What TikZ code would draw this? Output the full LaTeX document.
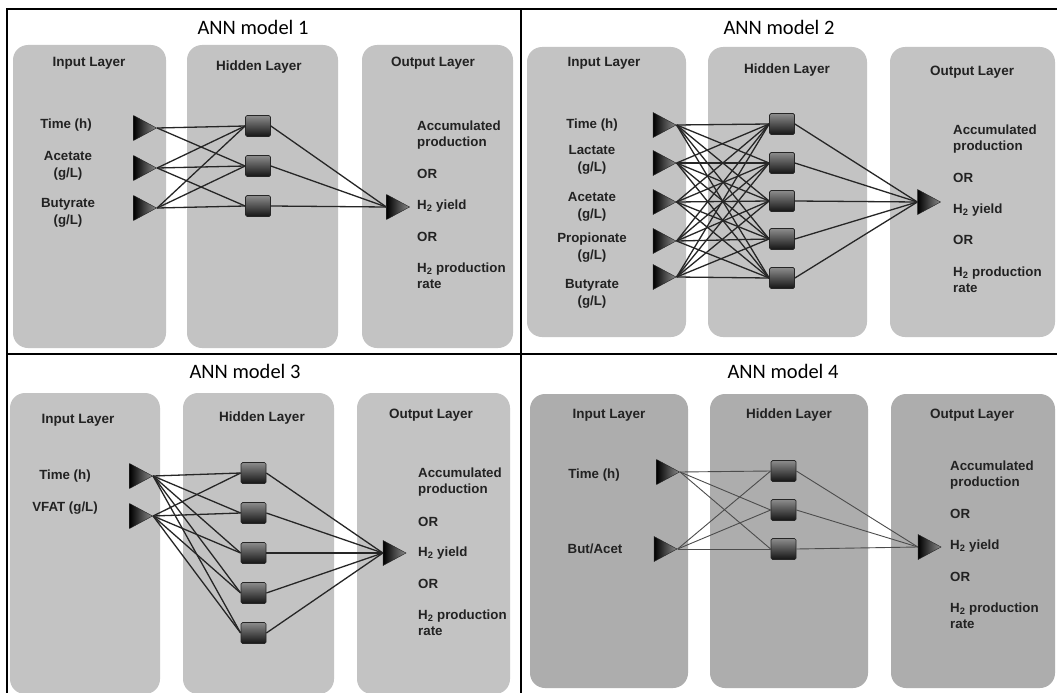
\documentclass[tikz,border=0pt]{standalone}
\usepackage{fontspec}
\newfontfamily\labfont{Liberation Sans}
\newfontfamily\ttlfont{Carlito}
\usetikzlibrary{shapes.geometric}
\definecolor{panelA}{HTML}{C3C3C3}
\definecolor{panelB}{HTML}{ADADAD}
\definecolor{txt}{HTML}{222222}
\tikzset{
  panel/.style={fill=panelA, rounded corners=15pt},
  panelb/.style={fill=panelB, rounded corners=15pt},
  ttl/.style={font=\ttlfont\fontsize{20.5}{24}\selectfont, text=black, inner sep=0pt},
  hdr/.style={font=\labfont\bfseries\fontsize{13.5}{16}\selectfont, text=txt, inner sep=0pt},
  lab/.style={font=\labfont\bfseries\fontsize{13.3}{17}\selectfont, text=txt, align=center, inner sep=0pt},
  outt/.style={font=\labfont\bfseries\fontsize{13.3}{16}\selectfont, text=txt, align=left, anchor=west, inner sep=0pt},
  tri/.style={isosceles triangle, isosceles triangle stretches, shape border rotate=0,
    minimum width=25pt, minimum height=23pt, inner sep=0pt,
    left color=black, right color=black!45, draw=black!85, line width=0.4pt},
  sq/.style={rectangle, rounded corners=1.5pt, minimum width=25pt, minimum height=21pt, inner sep=0pt,
    top color=black!45, bottom color=black!92, draw=black!85, line width=0.7pt},
  conn/.style={draw=black!85, line width=1.3pt},
  connb/.style={draw=black!70, line width=0.9pt},
  frame/.style={draw=black, line width=2pt}
}
\begin{document}
\begin{tikzpicture}[x=1pt,y=-1pt]
\useasboundingbox (0,0) rectangle (1057,693);
\fill[white] (0,0) rectangle (1057,693);

% ---------- panels ----------
\fill[panel] (13,45) rectangle (166,348);
\fill[panel] (187,45) rectangle (338,348);
\fill[panel] (362,45) rectangle (513,348);

\fill[panel] (527,47) rectangle (686,337);
\fill[panel] (708,47) rectangle (867,337);
\fill[panel] (890,47) rectangle (1055,337);

\fill[panel] (10,393) rectangle (160,694);
\fill[panel] (183,393) rectangle (334,694);
\fill[panel] (357,393) rectangle (510,694);

\fill[panelb] (530,394) rectangle (688,688);
\fill[panelb] (710,394) rectangle (868,688);
\fill[panelb] (891,394) rectangle (1055,688);

% ---------- frame ----------
\draw[frame] (7,700) -- (7,9) -- (1062,9);
\draw[frame] (521,9) -- (521,700);
\draw[frame] (7,354) -- (1062,354);

% ================= Model 1 =================
\node[ttl] (t1) at (253,27) {ANN model 1};
\node[hdr] (q1hi) at (89,63) {Input Layer};
\node[hdr] (q1hh) at (259,67) {Hidden Layer};
\node[hdr] (q1ho) at (433,63) {Output Layer};
\node[lab] (q1l1) at (66,125) {Time (h)};
\node[lab] (q1l2) at (68,166) {Acetate\\(g/L)};
\node[lab] (q1l3) at (68,213) {Butyrate\\(g/L)};
\node[tri] (q1i1) at (141,128) {};
\node[tri] (q1i2) at (141,168) {};
\node[tri] (q1i3) at (141,208) {};
\node[sq] (q1h1) at (258,126) {};
\node[sq] (q1h2) at (258,166) {};
\node[sq] (q1h3) at (258,206) {};
\node[tri] (q1o) at (394,207) {};
\node[outt] (q1a) at (417,135) {Accumulated\\production};
\node[outt] (q1b) at (417,174) {OR};
\node[outt] (q1c) at (417,206) {H\textsubscript{2} yield};
\node[outt] (q1d) at (417,237) {OR};
\node[outt] (q1e) at (417,276) {H\textsubscript{2} production\\rate};
\foreach \a/\b in {1/1,1/2,2/1,2/2,2/3,3/1,3/2,3/3}
  \draw[conn] (q1i\a.apex) -- (q1h\b.west);
\foreach \b in {1,2,3}
  \draw[conn] (q1h\b.east) -- (q1o.west);

% ================= Model 2 =================
\node[ttl] (t2) at (779,27) {ANN model 2};
\node[hdr] (q2hi) at (604,63) {Input Layer};
\node[hdr] (q2hh) at (787,70) {Hidden Layer};
\node[hdr] (q2ho) at (972,72) {Output Layer};
\node[lab] (q2l1) at (592,125) {Time (h)};
\node[lab] (q2l2) at (592,160) {Lactate\\(g/L)};
\node[lab] (q2l3) at (592,207) {Acetate\\(g/L)};
\node[lab] (q2l4) at (592,248) {Propionate\\(g/L)};
\node[lab] (q2l5) at (592,294) {Butyrate\\(g/L)};
\foreach \i/\y in {1/125,2/163,3/202,4/241,5/277}
  \node[tri] (q2i\i) at (660.5,\y) {};
\foreach \i/\y in {1/124,2/163,3/201,4/239,5/278}
  \node[sq] (q2h\i) at (782,\y) {};
\node[tri] (q2o) at (925,202) {};
\node[outt] (q2a) at (953,139) {Accumulated\\production};
\node[outt] (q2b) at (953,178) {OR};
\node[outt] (q2c) at (953,210) {H\textsubscript{2} yield};
\node[outt] (q2d) at (953,240) {OR};
\node[outt] (q2e) at (953,280) {H\textsubscript{2} production\\rate};
\foreach \a in {1,...,5}
  \foreach \b in {1,...,5}
    \draw[conn] (q2i\a.apex) -- (q2h\b.west);
\foreach \b in {1,...,5}
  \draw[conn] (q2h\b.east) -- (q2o.west);

% ================= Model 3 =================
\node[ttl] (t3) at (245,371) {ANN model 3};
\node[hdr] (q3hi) at (78,420) {Input Layer};
\node[hdr] (q3hh) at (262,418) {Hidden Layer};
\node[hdr] (q3ho) at (431,415) {Output Layer};
\node[lab] (q3l1) at (65,476) {Time (h)};
\node[lab] (q3l2) at (65,508) {VFAT (g/L)};
\node[tri] (q3i1) at (137,476) {};
\node[tri] (q3i2) at (137,516) {};
\foreach \i/\y in {1/473,2/513,3/553,4/593,5/633}
  \node[sq] (q3h\i) at (253.5,\y) {};
\node[tri] (q3o) at (390.5,553) {};
\node[outt] (q3a) at (418,482) {Accumulated\\production};
\node[outt] (q3b) at (418,522) {OR};
\node[outt] (q3c) at (418,553) {H\textsubscript{2} yield};
\node[outt] (q3d) at (418,584) {OR};
\node[outt] (q3e) at (418,623) {H\textsubscript{2} production\\rate};
\foreach \a in {1,2}
  \foreach \b in {1,...,5}
    \draw[conn] (q3i\a.apex) -- (q3h\b.west);
\foreach \b in {1,...,5}
  \draw[conn] (q3h\b.east) -- (q3o.west);

% ================= Model 4 =================
\node[ttl] (t4) at (783,371) {ANN model 4};
\node[hdr] (q4hi) at (609,415) {Input Layer};
\node[hdr] (q4hh) at (789,415) {Hidden Layer};
\node[hdr] (q4ho) at (972,415) {Output Layer};
\node[lab] (q4l1) at (594,475) {Time (h)};
\node[lab] (q4l2) at (595,549) {But/Acet};
\node[tri] (q4i1) at (664,472) {};
\node[tri] (q4i2) at (661.5,549) {};
\foreach \i/\y in {1/471,2/510,3/549}
  \node[sq] (q4h\i) at (783.5,\y) {};
\node[tri] (q4o) at (925.5,547) {};
\node[outt] (q4a) at (950,475) {Accumulated\\production};
\node[outt] (q4b) at (950,514) {OR};
\node[outt] (q4c) at (950,546) {H\textsubscript{2} yield};
\node[outt] (q4d) at (950,577) {OR};
\node[outt] (q4e) at (950,616) {H\textsubscript{2} production\\rate};
\foreach \a in {1,2}
  \foreach \b in {1,2,3}
    \draw[connb] (q4i\a.apex) -- (q4h\b.west);
\foreach \b in {1,2,3}
  \draw[connb] (q4h\b.east) -- (q4o.west);
\end{tikzpicture}
\end{document}
